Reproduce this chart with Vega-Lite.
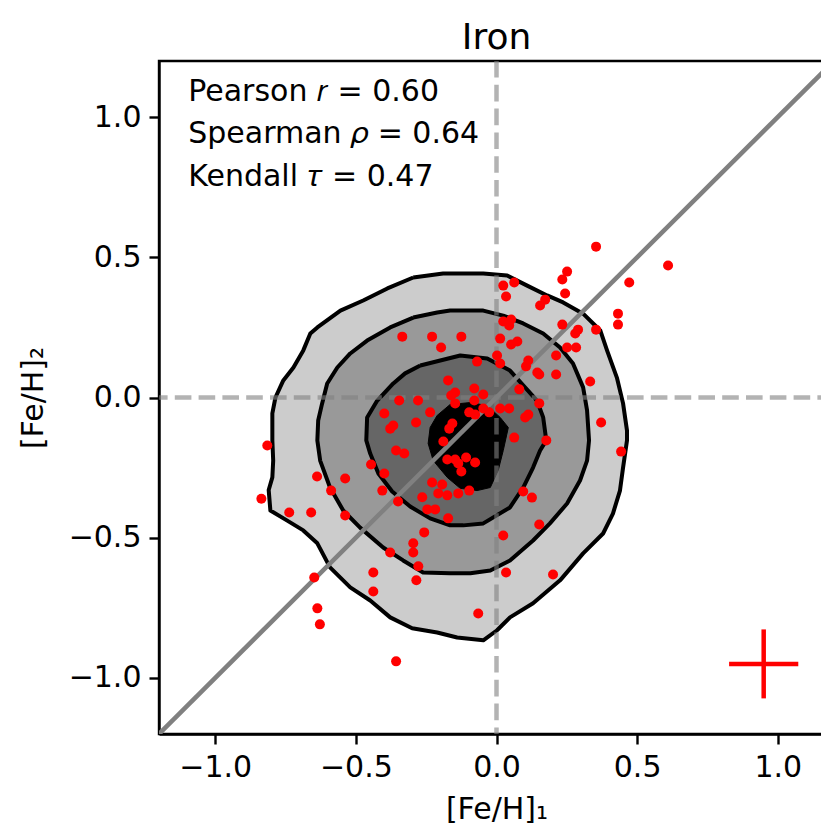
{
  "$schema": "https://vega.github.io/schema/vega-lite/v6.json",
  "width": 675,
  "height": 673,
  "autosize": {"type": "none"},
  "padding": {"left": 159, "top": 61, "right": 0, "bottom": 95},
  "background": "white",
  "title": {"text": "Iron", "fontSize": 36, "font": "DejaVu Sans", "fontWeight": "normal", "color": "black", "offset": 2},
  "config": {
    "view": {"stroke": "black", "strokeWidth": 2.4},
    "axis": {
      "domainColor": "black", "domainWidth": 2.4, "tickColor": "black", "tickWidth": 2.4, "tickSize": 10,
      "labelFont": "DejaVu Sans", "labelFontSize": 30, "labelColor": "black", "labelPadding": 8,
      "labelFlush": false, "labelOverlap": false,
      "titleFont": "DejaVu Sans", "titleFontSize": 30, "titleFontWeight": "normal", "titleColor": "black",
      "grid": false
    }
  },
  "datasets": {
    "contours": [
      {"c":1,"i":0,"x":-0.296,"y":0.428},{"c":1,"i":1,"x":-0.190,"y":0.442},{"c":1,"i":2,"x":-0.047,"y":0.442},{"c":1,"i":3,"x":0.038,"y":0.435},
      {"c":1,"i":4,"x":0.109,"y":0.399},{"c":1,"i":5,"x":0.180,"y":0.364},{"c":1,"i":6,"x":0.237,"y":0.339},{"c":1,"i":7,"x":0.308,"y":0.299},
      {"c":1,"i":8,"x":0.369,"y":0.239},{"c":1,"i":9,"x":0.393,"y":0.168},{"c":1,"i":10,"x":0.428,"y":0.071},{"c":1,"i":11,"x":0.450,"y":-0.021},
      {"c":1,"i":12,"x":0.464,"y":-0.118},{"c":1,"i":13,"x":0.464,"y":-0.153},{"c":1,"i":14,"x":0.450,"y":-0.250},{"c":1,"i":15,"x":0.439,"y":-0.332},
      {"c":1,"i":16,"x":0.414,"y":-0.414},{"c":1,"i":17,"x":0.379,"y":-0.485},{"c":1,"i":18,"x":0.308,"y":-0.556},{"c":1,"i":19,"x":0.226,"y":-0.652},
      {"c":1,"i":20,"x":0.130,"y":-0.734},{"c":1,"i":21,"x":0.048,"y":-0.784},{"c":1,"i":22,"x":0.002,"y":-0.830},{"c":1,"i":23,"x":-0.047,"y":-0.866},
      {"c":1,"i":24,"x":-0.140,"y":-0.856},{"c":1,"i":25,"x":-0.211,"y":-0.838},{"c":1,"i":26,"x":-0.300,"y":-0.823},{"c":1,"i":27,"x":-0.378,"y":-0.784},
      {"c":1,"i":28,"x":-0.449,"y":-0.724},{"c":1,"i":29,"x":-0.520,"y":-0.677},{"c":1,"i":30,"x":-0.592,"y":-0.606},{"c":1,"i":31,"x":-0.637,"y":-0.520},
      {"c":1,"i":32,"x":-0.687,"y":-0.474},{"c":1,"i":33,"x":-0.744,"y":-0.439},{"c":1,"i":34,"x":-0.804,"y":-0.403},{"c":1,"i":35,"x":-0.810,"y":-0.330},
      {"c":1,"i":36,"x":-0.797,"y":-0.285},{"c":1,"i":37,"x":-0.794,"y":-0.225},{"c":1,"i":38,"x":-0.797,"y":-0.153},{"c":1,"i":39,"x":-0.797,"y":-0.057},
      {"c":1,"i":40,"x":-0.786,"y":0.000},{"c":1,"i":41,"x":-0.758,"y":0.061},{"c":1,"i":42,"x":-0.722,"y":0.107},{"c":1,"i":43,"x":-0.687,"y":0.168},
      {"c":1,"i":44,"x":-0.662,"y":0.228},{"c":1,"i":45,"x":-0.637,"y":0.250},{"c":1,"i":46,"x":-0.555,"y":0.310},{"c":1,"i":47,"x":-0.474,"y":0.346},
      {"c":1,"i":48,"x":-0.388,"y":0.389},{"c":1,"i":49,"x":-0.296,"y":0.428},

      {"c":2,"i":0,"x":-0.296,"y":0.285},{"c":2,"i":1,"x":-0.211,"y":0.303},{"c":2,"i":2,"x":-0.165,"y":0.310},{"c":2,"i":3,"x":-0.047,"y":0.310},
      {"c":2,"i":4,"x":0.024,"y":0.292},{"c":2,"i":5,"x":0.095,"y":0.264},{"c":2,"i":6,"x":0.166,"y":0.228},{"c":2,"i":7,"x":0.226,"y":0.178},
      {"c":2,"i":8,"x":0.272,"y":0.121},{"c":2,"i":9,"x":0.308,"y":0.036},{"c":2,"i":10,"x":0.322,"y":-0.046},{"c":2,"i":11,"x":0.329,"y":-0.153},
      {"c":2,"i":12,"x":0.322,"y":-0.225},{"c":2,"i":13,"x":0.297,"y":-0.296},{"c":2,"i":14,"x":0.251,"y":-0.378},{"c":2,"i":15,"x":0.190,"y":-0.449},
      {"c":2,"i":16,"x":0.130,"y":-0.510},{"c":2,"i":17,"x":0.048,"y":-0.581},{"c":2,"i":18,"x":-0.022,"y":-0.617},{"c":2,"i":19,"x":-0.093,"y":-0.627},
      {"c":2,"i":20,"x":-0.165,"y":-0.627},{"c":2,"i":21,"x":-0.261,"y":-0.624},{"c":2,"i":22,"x":-0.332,"y":-0.581},{"c":2,"i":23,"x":-0.403,"y":-0.535},
      {"c":2,"i":24,"x":-0.485,"y":-0.464},{"c":2,"i":25,"x":-0.545,"y":-0.403},{"c":2,"i":26,"x":-0.592,"y":-0.321},{"c":2,"i":27,"x":-0.627,"y":-0.225},
      {"c":2,"i":28,"x":-0.637,"y":-0.153},{"c":2,"i":29,"x":-0.634,"y":-0.082},{"c":2,"i":30,"x":-0.620,"y":-0.021},{"c":2,"i":31,"x":-0.602,"y":0.050},
      {"c":2,"i":32,"x":-0.566,"y":0.107},{"c":2,"i":33,"x":-0.520,"y":0.157},{"c":2,"i":34,"x":-0.460,"y":0.203},{"c":2,"i":35,"x":-0.378,"y":0.250},
      {"c":2,"i":36,"x":-0.296,"y":0.285},

      {"c":3,"i":0,"x":-0.271,"y":0.114},{"c":3,"i":1,"x":-0.129,"y":0.150},{"c":3,"i":2,"x":-0.033,"y":0.139},{"c":3,"i":3,"x":0.048,"y":0.096},
      {"c":3,"i":4,"x":0.095,"y":0.043},{"c":3,"i":5,"x":0.144,"y":-0.011},{"c":3,"i":6,"x":0.166,"y":-0.071},{"c":3,"i":7,"x":0.177,"y":-0.153},
      {"c":3,"i":8,"x":0.155,"y":-0.189},{"c":3,"i":9,"x":0.130,"y":-0.250},{"c":3,"i":10,"x":0.095,"y":-0.321},{"c":3,"i":11,"x":0.048,"y":-0.392},
      {"c":3,"i":12,"x":-0.047,"y":-0.449},{"c":3,"i":13,"x":-0.118,"y":-0.456},{"c":3,"i":14,"x":-0.165,"y":-0.456},{"c":3,"i":15,"x":-0.236,"y":-0.431},
      {"c":3,"i":16,"x":-0.307,"y":-0.389},{"c":3,"i":17,"x":-0.371,"y":-0.335},{"c":3,"i":18,"x":-0.420,"y":-0.271},{"c":3,"i":19,"x":-0.449,"y":-0.200},
      {"c":3,"i":20,"x":-0.463,"y":-0.153},{"c":3,"i":21,"x":-0.460,"y":-0.071},{"c":3,"i":22,"x":-0.424,"y":-0.011},{"c":3,"i":23,"x":-0.367,"y":0.050},
      {"c":3,"i":24,"x":-0.325,"y":0.086},{"c":3,"i":25,"x":-0.271,"y":0.114},

      {"c":4,"i":0,"x":-0.165,"y":-0.025},{"c":4,"i":1,"x":-0.093,"y":-0.018},{"c":4,"i":2,"x":-0.033,"y":-0.029},{"c":4,"i":3,"x":0.013,"y":-0.071},
      {"c":4,"i":4,"x":0.042,"y":-0.107},{"c":4,"i":5,"x":0.024,"y":-0.189},{"c":4,"i":6,"x":0.006,"y":-0.260},{"c":4,"i":7,"x":-0.022,"y":-0.321},
      {"c":4,"i":8,"x":-0.069,"y":-0.332},{"c":4,"i":9,"x":-0.129,"y":-0.324},{"c":4,"i":10,"x":-0.175,"y":-0.285},{"c":4,"i":11,"x":-0.225,"y":-0.225},
      {"c":4,"i":12,"x":-0.243,"y":-0.164},{"c":4,"i":13,"x":-0.236,"y":-0.107},{"c":4,"i":14,"x":-0.211,"y":-0.064},{"c":4,"i":15,"x":-0.165,"y":-0.025}
    ],
    "stars": [
      {"x":-0.335,"y":0.217},{"x":-0.229,"y":0.217},{"x":-0.197,"y":0.178},{"x":-0.125,"y":0.217},{"x":-0.172,"y":0.061},
      {"x":-0.069,"y":0.128},{"x":0.002,"y":0.150},{"x":0.013,"y":0.121},{"x":-0.147,"y":0.018},{"x":-0.079,"y":0.032},
      {"x":-0.047,"y":0.011},{"x":-0.161,"y":0.007},{"x":-0.346,"y":-0.011},{"x":-0.279,"y":-0.011},{"x":-0.079,"y":-0.011},
      {"x":-0.147,"y":-0.021},{"x":0.354,"y":0.538},{"x":0.251,"y":0.449},{"x":0.234,"y":0.421},{"x":0.472,"y":0.410},
      {"x":0.063,"y":0.410},{"x":0.024,"y":0.399},{"x":0.034,"y":0.360},{"x":0.244,"y":0.371},{"x":0.173,"y":0.349},
      {"x":0.155,"y":0.328},{"x":0.432,"y":0.299},{"x":0.432,"y":0.260},{"x":0.234,"y":0.260},{"x":0.290,"y":0.242},
      {"x":0.280,"y":0.228},{"x":0.354,"y":0.242},{"x":0.024,"y":0.271},{"x":0.052,"y":0.278},{"x":0.045,"y":0.257},
      {"x":0.013,"y":0.210},{"x":0.074,"y":0.200},{"x":0.052,"y":0.189},{"x":0.251,"y":0.178},{"x":0.283,"y":0.178},
      {"x":0.212,"y":0.150},{"x":0.113,"y":0.132},{"x":0.105,"y":0.111},{"x":0.145,"y":0.089},{"x":0.152,"y":0.082},
      {"x":0.212,"y":0.082},{"x":0.333,"y":0.057},{"x":0.081,"y":0.029},{"x":0.610,"y":0.471},{"x":0.152,"y":-0.021},
      {"x":-0.047,"y":-0.039},{"x":-0.026,"y":-0.053},{"x":0.013,"y":-0.039},{"x":0.045,"y":-0.039},{"x":-0.097,"y":-0.053},
      {"x":-0.076,"y":-0.061},{"x":0.113,"y":-0.061},{"x":0.102,"y":-0.071},{"x":0.372,"y":-0.089},{"x":0.063,"y":-0.143},
      {"x":0.177,"y":-0.153},{"x":-0.236,"y":-0.053},{"x":-0.399,"y":-0.057},{"x":-0.367,"y":-0.100},{"x":-0.378,"y":-0.111},
      {"x":-0.286,"y":-0.089},{"x":-0.157,"y":-0.093},{"x":-0.168,"y":-0.111},{"x":-0.189,"y":-0.157},{"x":-0.328,"y":-0.200},
      {"x":-0.175,"y":-0.221},{"x":-0.147,"y":-0.221},{"x":-0.108,"y":-0.214},{"x":-0.136,"y":-0.235},{"x":-0.076,"y":-0.232},
      {"x":-0.125,"y":-0.264},{"x":-0.229,"y":-0.303},{"x":-0.193,"y":-0.310},{"x":-0.207,"y":-0.342},{"x":-0.175,"y":-0.349},
      {"x":-0.136,"y":-0.342},{"x":-0.097,"y":-0.332},{"x":-0.264,"y":-0.356},{"x":-0.815,"y":-0.171},{"x":-0.357,"y":-0.189},
      {"x":-0.446,"y":-0.239},{"x":-0.399,"y":-0.271},{"x":-0.638,"y":-0.282},{"x":-0.538,"y":-0.289},{"x":-0.588,"y":-0.332},
      {"x":-0.406,"y":-0.332},{"x":-0.836,"y":-0.361},{"x":-0.350,"y":-0.371},{"x":-0.246,"y":-0.399},{"x":-0.218,"y":-0.399},
      {"x":-0.172,"y":-0.431},{"x":-0.737,"y":-0.410},{"x":-0.659,"y":-0.410},{"x":-0.538,"y":-0.421},{"x":-0.257,"y":-0.481},
      {"x":-0.296,"y":-0.520},{"x":-0.296,"y":-0.553},{"x":-0.378,"y":-0.553},{"x":-0.278,"y":-0.602},{"x":-0.285,"y":-0.652},
      {"x":-0.438,"y":-0.624},{"x":-0.438,"y":-0.692},{"x":-0.648,"y":-0.642},{"x":-0.637,"y":-0.752},{"x":-0.628,"y":-0.809},
      {"x":-0.357,"y":-0.941},{"x":0.443,"y":-0.193},{"x":0.095,"y":-0.335},{"x":0.126,"y":-0.357},{"x":0.152,"y":-0.453},
      {"x":0.024,"y":-0.492},{"x":0.201,"y":-0.631},{"x":0.034,"y":-0.624},{"x":-0.065,"y":-0.770}
    ]
  },
  "layer": [
    {
      "data": {"name": "contours"},
      "transform": [{"filter": "datum.c == 1"}],
      "mark": {"type": "line", "fill": "#cccccc", "stroke": "black", "strokeWidth": 4, "strokeJoin": "round"},
      "encoding": {
        "x": {"field": "x", "type": "quantitative", "scale": {"domain": [-1.2, 1.2], "nice": false, "zero": false},
              "axis": {"title": "[Fe/H]₁", "values": [-1, -0.5, 0, 0.5, 1], "format": ".1f", "titlePadding": 12}},
        "y": {"field": "y", "type": "quantitative", "scale": {"domain": [-1.2, 1.2], "nice": false, "zero": false},
              "axis": {"title": "[Fe/H]₂", "values": [-1, -0.5, 0, 0.5, 1], "format": ".1f", "titlePadding": 20}},
        "order": {"field": "i", "type": "quantitative"}
      }
    },
    {
      "data": {"name": "contours"},
      "transform": [{"filter": "datum.c == 2"}],
      "mark": {"type": "line", "fill": "#999999", "stroke": "black", "strokeWidth": 4, "strokeJoin": "round"},
      "encoding": {
        "x": {"field": "x", "type": "quantitative"},
        "y": {"field": "y", "type": "quantitative"},
        "order": {"field": "i", "type": "quantitative"}
      }
    },
    {
      "data": {"name": "contours"},
      "transform": [{"filter": "datum.c == 3"}],
      "mark": {"type": "line", "fill": "#666666", "stroke": "black", "strokeWidth": 4, "strokeJoin": "round"},
      "encoding": {
        "x": {"field": "x", "type": "quantitative"},
        "y": {"field": "y", "type": "quantitative"},
        "order": {"field": "i", "type": "quantitative"}
      }
    },
    {
      "data": {"name": "contours"},
      "transform": [{"filter": "datum.c == 4"}],
      "mark": {"type": "line", "fill": "black", "stroke": "black", "strokeWidth": 1, "strokeJoin": "round"},
      "encoding": {
        "x": {"field": "x", "type": "quantitative"},
        "y": {"field": "y", "type": "quantitative"},
        "order": {"field": "i", "type": "quantitative"}
      }
    },
    {
      "data": {"values": [{"x": 0}]},
      "mark": {"type": "rule", "color": "#808080", "opacity": 0.6, "strokeWidth": 4.5, "strokeDash": [16.6, 7.2]},
      "encoding": {"x": {"field": "x", "type": "quantitative"}}
    },
    {
      "data": {"values": [{"y": 0}]},
      "mark": {"type": "rule", "color": "#808080", "opacity": 0.6, "strokeWidth": 4.5, "strokeDash": [16.6, 7.2]},
      "encoding": {"y": {"field": "y", "type": "quantitative"}}
    },
    {
      "data": {"values": [{"x": -1.2, "y": -1.2}, {"x": 1.2, "y": 1.2}]},
      "mark": {"type": "line", "color": "#808080", "strokeWidth": 4.5, "clip": true},
      "encoding": {
        "x": {"field": "x", "type": "quantitative"},
        "y": {"field": "y", "type": "quantitative"}
      }
    },
    {
      "data": {"name": "stars"},
      "mark": {"type": "circle", "color": "#ff0000", "size": 100, "opacity": 1},
      "encoding": {
        "x": {"field": "x", "type": "quantitative"},
        "y": {"field": "y", "type": "quantitative"}
      }
    },
    {
      "data": {"values": [{"x": 0.95, "y": -0.95, "xlo": 0.827, "xhi": 1.073, "ylo": -1.073, "yhi": -0.827}]},
      "mark": {"type": "rule", "color": "#ff0000", "strokeWidth": 4.5},
      "encoding": {
        "x": {"field": "xlo", "type": "quantitative"},
        "x2": {"field": "xhi"},
        "y": {"field": "y", "type": "quantitative"}
      }
    },
    {
      "data": {"values": [{"x": 0.95, "y": -0.95, "xlo": 0.827, "xhi": 1.073, "ylo": -1.073, "yhi": -0.827}]},
      "mark": {"type": "rule", "color": "#ff0000", "strokeWidth": 4.5},
      "encoding": {
        "x": {"field": "x", "type": "quantitative"},
        "y": {"field": "ylo", "type": "quantitative"},
        "y2": {"field": "yhi"}
      }
    },
    {
      "data": {"values": [
        {"t": "Pearson 𝑟 = 0.60", "x": -1.096, "y": 1.057},
        {"t": "Spearman 𝜌 = 0.64", "x": -1.096, "y": 0.908},
        {"t": "Kendall 𝜏 = 0.47", "x": -1.096, "y": 0.754}
      ]},
      "mark": {"type": "text", "font": "DejaVu Sans", "fontSize": 30, "color": "black", "align": "left", "baseline": "alphabetic"},
      "encoding": {
        "x": {"field": "x", "type": "quantitative"},
        "y": {"field": "y", "type": "quantitative"},
        "text": {"field": "t"}
      }
    }
  ]
}
